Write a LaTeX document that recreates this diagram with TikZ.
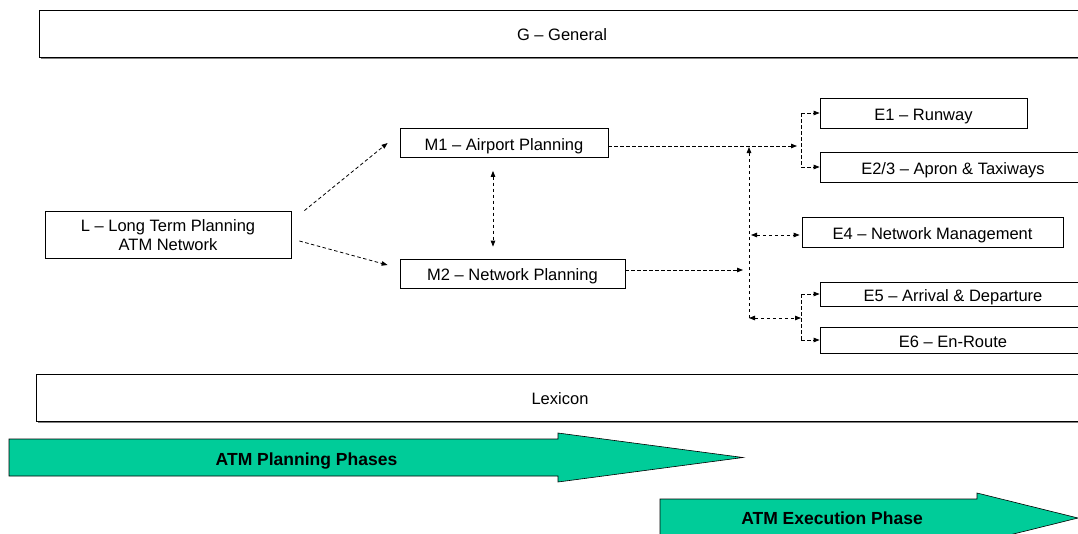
\documentclass[tikz,border=0pt]{standalone}
\usepackage{fontspec}
\setmainfont{Liberation Sans}
\usetikzlibrary{arrows.meta,calc}
\definecolor{atmgreen}{HTML}{00CC99}
\definecolor{shadowgray}{HTML}{808080}
\tikzset{
  box/.style={draw=black, line width=0.8pt, fill=white, inner sep=0pt,
    font=\fontsize{16.5}{19}\selectfont, align=center, text height=14pt, text depth=0pt},
  conn/.style={draw=black, line width=0.8pt, dash pattern=on 3.5pt off 2.5pt,
    -{Triangle[length=6pt,width=4.5pt]}},
  conn2/.style={conn, {Triangle[length=6pt,width=4.5pt]}-{Triangle[length=6pt,width=4.5pt]}},
  plain/.style={draw=black, line width=0.8pt, dash pattern=on 3.5pt off 2.5pt},
  phase/.style={fill=atmgreen, draw=black, line width=0.6pt},
  phasetext/.style={font=\bfseries\fontsize{17.5}{20}\selectfont, inner sep=0pt,
    text height=14.6pt, text depth=0pt}
}
\begin{document}
\begin{tikzpicture}[x=1pt,y=-1pt]
\useasboundingbox (0,0) rectangle (1078,533);
% shadows of wide boxes
\fill[shadowgray] (40.5,11.5) rectangle (1087,58.5);
\fill[shadowgray] (37.5,375.5) rectangle (1086,422.5);
% boxes
\node[box, minimum width=1046pt, minimum height=47pt] (G) at (562,33.5) {G – General};
\node[box, minimum width=1048pt, minimum height=47pt] (Lex) at (560,397.5) {Lexicon};
\node[box, minimum width=246pt, minimum height=47pt, text height=33pt, text depth=1.5pt] (L) at (168,234.5) {L – Long Term Planning\\ATM Network};
\node[box, minimum width=208pt, minimum height=29pt] (M1) at (504,143) {M1 – Airport Planning};
\node[box, minimum width=225pt, minimum height=29pt] (M2) at (512.5,273.5) {M2 – Network Planning};
\node[box, minimum width=207pt, minimum height=30pt] (E1) at (923.5,113) {E1 – Runway};
\node[box, minimum width=266pt, minimum height=30pt] (E2) at (953,167) {E2/3 – Apron \& Taxiways};
\node[box, minimum width=261pt, minimum height=30pt] (E4) at (932.5,232) {E4 – Network Management};
\node[box, minimum width=266pt, minimum height=24pt] (E5) at (953,294) {E5 – Arrival \& Departure};
\node[box, minimum width=266pt, minimum height=26pt] (E6) at (953,340) {E6 – En-Route};
% helper coordinates
\coordinate (bt) at (749,147);
\coordinate (bb) at (749,318);
\coordinate (fa) at (801,146);
\coordinate (fb) at (801,318);
% connectors
\draw[conn] ($(L.north east)+(13,0)$) -- ($(M1.west)+(-12,0)$);
\draw[conn] ($(L.east)+(8,6.5)$) -- ($(M2.west)+(-12,-8.5)$);
\draw[conn2] ($(M1.south)+(-11,13)$) -- ($(M2.north)+(-19.5,-12)$);
\draw[conn] ($(M1.east)+(0,3)$) -- ($(fa)+(-4,0)$);
\draw[plain] (E1.west -| fa) -- (E2.west -| fa);
\draw[conn] (E1.west -| fa) -- (E1.west);
\draw[conn] (E2.west -| fa) -- (E2.west);
\draw[conn] (bb) -- (bt);
\draw[conn2] ($(E4.west -| bt)+(2,3)$) -- ($(E4.west)+(-2,3)$);
\draw[conn] ($(M2.east)+(0,-3.5)$) -- ($(bb |- M2.east)+(-6,-3.5)$);
\draw[conn2] (bb) -- (fb);
\draw[plain] (E5.west -| fb) -- (E6.west -| fb);
\draw[conn] (E5.west -| fb) -- (E5.west);
\draw[conn] (E6.west -| fb) -- (E6.west);
% phase arrows
\draw[phase] (9,439) -- (558,439) -- (558,433) -- (743,457.5) -- (558,482) -- (558,476) -- (9,476) -- cycle;
\node[phasetext] (plan) at (306.5,458) {ATM Planning Phases};
\draw[phase] (660,499) -- (977,499) -- (977,493) -- (1078,518) -- (977,543) -- (977,537) -- (660,537) -- cycle;
\node[phasetext] (exec) at (832,517) {ATM Execution Phase};
\end{tikzpicture}
\end{document}
